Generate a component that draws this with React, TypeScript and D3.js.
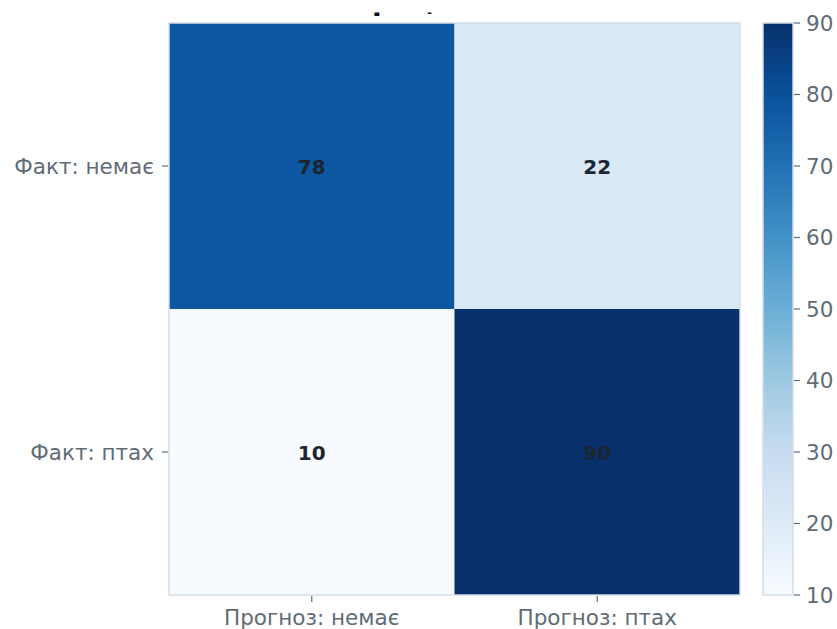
import React from "react";
import * as d3 from "d3";

const rowLabels = ["Факт: немає", "Факт: птах"];
const colLabels = ["Прогноз: немає", "Прогноз: птах"];
const matrix = [
  [78, 22],
  [10, 90],
];
const colorTicks = [10, 20, 30, 40, 50, 60, 70, 80, 90];
const bluesStops = ["#f7fbff", "#deebf7", "#c6dbef", "#9ecae1", "#6baed6", "#4292c6", "#2171b5", "#08519c", "#08306b"];
const title = "Матриця помилок";

const W = 837;
const H = 629;
const FONT = "'DejaVu Sans', sans-serif";

export default function App() {
  const left = 169, right = 740, top = 23, bottom = 595;
  const x = d3.scaleBand<string>().domain(colLabels).range([left, right]);
  const y = d3.scaleBand<string>().domain(rowLabels).range([top, bottom]);
  const vmin = 10, vmax = 90;
  const color = d3
    .scaleLinear<string>()
    .domain(bluesStops.map((_, i) => vmin + ((vmax - vmin) * i) / (bluesStops.length - 1)))
    .range(bluesStops)
    .interpolate(d3.interpolateRgb)
    .clamp(true);

  const cbLeft = 763, cbRight = 793;
  const cy = d3.scaleLinear().domain([vmin, vmax]).range([bottom, top]);
  const grad = d3.range(0, 1.0001, 0.05).map((t) => ({ t, c: color(vmin + t * (vmax - vmin)) }));

  const tickColor = "#5f6b75";
  const spine = "#d3dde6";
  const LS = 21.5;

  return (
    <svg width={W} height={H} style={{ position: "absolute", left: 0, top: 0, background: "#fff" }}>
      <defs>
        <linearGradient id="cbgrad" x1="0" y1="1" x2="0" y2="0">
          {grad.map((g) => (
            <stop key={g.t} offset={g.t} stopColor={g.c} />
          ))}
        </linearGradient>
        <clipPath id="titleclip">
          <rect x={0} y={12.5} width={W} height={10} />
        </clipPath>
      </defs>
      <g clipPath="url(#titleclip)">
        <text x={(left + right) / 2} y={10} textAnchor="middle" fontFamily={FONT} fontWeight="bold" fontSize={28} fill="#111">
          {title}
        </text>
      </g>
      {matrix.map((row, i) =>
        row.map((v, j) => (
          <g key={`${i}-${j}`}>
            <rect x={x(colLabels[j])} y={y(rowLabels[i])} width={x.bandwidth()} height={y.bandwidth()} fill={color(v)} />
            <text
              x={x(colLabels[j])! + x.bandwidth() / 2}
              y={y(rowLabels[i])! + y.bandwidth() / 2 + 1}
              textAnchor="middle"
              dominantBaseline="central"
              fontFamily={FONT}
              fontWeight="bold"
              fontSize={20}
              fill="#1b2631"
            >
              {v}
            </text>
          </g>
        ))
      )}
      <rect x={left} y={top} width={right - left} height={bottom - top} fill="none" stroke={spine} strokeWidth={1.5} />
      {colLabels.map((c) => {
        const cx = x(c)! + x.bandwidth() / 2;
        return (
          <g key={c}>
            <line x1={cx} x2={cx} y1={bottom + 1} y2={bottom + 7} stroke={tickColor} strokeWidth={1.2} />
            <text x={cx} y={625} textAnchor="middle" fontFamily={FONT} fontSize={LS} fill={tickColor}>
              {c}
            </text>
          </g>
        );
      })}
      {rowLabels.map((r) => {
        const ry = y(r)! + y.bandwidth() / 2;
        return (
          <g key={r}>
            <line x1={left - 7} x2={left - 1} y1={ry} y2={ry} stroke={tickColor} strokeWidth={1.2} />
            <text x={left - 15} y={ry} textAnchor="end" dominantBaseline="central" fontFamily={FONT} fontSize={LS} fill={tickColor}>
              {r}
            </text>
          </g>
        );
      })}
      <rect x={cbLeft} y={top} width={cbRight - cbLeft} height={bottom - top} fill="url(#cbgrad)" stroke={spine} strokeWidth={1.5} />
      {colorTicks.map((t) => (
        <g key={t}>
          <line x1={cbRight + 1} x2={cbRight + 7} y1={cy(t)} y2={cy(t)} stroke={tickColor} strokeWidth={1.2} />
          <text x={cbRight + 13} y={cy(t)} dominantBaseline="central" fontFamily={FONT} fontSize={LS} fill={tickColor}>
            {t}
          </text>
        </g>
      ))}
    </svg>
  );
}
